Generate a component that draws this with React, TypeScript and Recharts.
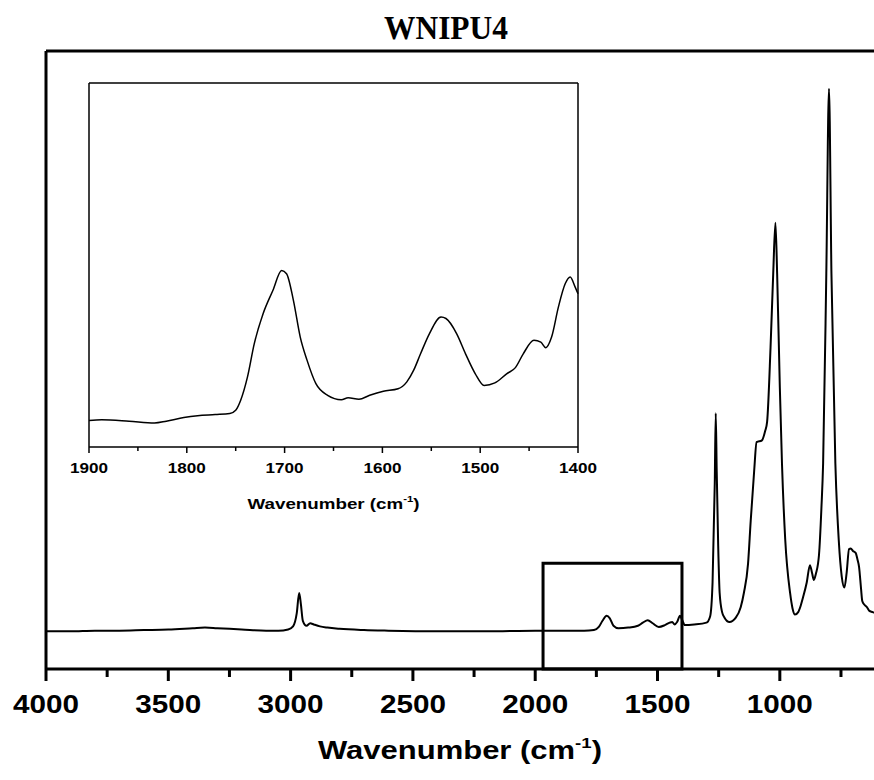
import React from "react";
import { LineChart, Line, XAxis, YAxis, ReferenceLine, ReferenceArea } from "recharts";

// Main FTIR spectrum (wavenumber in cm-1, absorbance in arbitrary units 0-100)
const mainWavenumbers = [
  4000, 3900, 3800, 3700, 3600, 3500, 3400, 3350, 3300, 3200, 3100, 3050, 3010, 2990, 2975, 2965, 2958, 2950,
  2935, 2920, 2905, 2880, 2850, 2800, 2700, 2600, 2400, 2200, 2000, 1900, 1800, 1760, 1740, 1725, 1708, 1695,
  1680, 1660, 1620, 1580, 1560, 1540, 1520, 1495, 1470, 1450, 1440, 1430, 1420, 1408, 1400, 1388, 1350, 1300,
  1285, 1275, 1266, 1262, 1258, 1252, 1246, 1236, 1226, 1206, 1180, 1160, 1147, 1130, 1119, 1105, 1095, 1073,
  1060, 1052, 1038, 1027, 1018, 1011, 1000, 991, 978, 958, 948, 938, 925, 915, 905, 890, 877, 868, 861, 852,
  844, 840, 830, 823, 810, 799, 789, 773, 759, 747, 736, 727, 717, 710, 701, 690, 683, 676, 668, 663, 654, 644,
  634, 620, 615,
];
const mainAbsorbance = [
  6.1, 6.1, 6.2, 6.2, 6.3, 6.4, 6.6, 6.7, 6.6, 6.4, 6.2, 6.2, 6.4, 6.9, 9.0, 12.3, 10.5, 7.8,
  7.0, 7.4, 7.2, 6.9, 6.7, 6.5, 6.3, 6.2, 6.1, 6.1, 6.2, 6.2, 6.2, 6.3, 6.8, 7.8, 8.6, 8.2,
  7.0, 6.6, 6.7, 7.0, 7.5, 7.9, 7.4, 6.8, 7.1, 7.5, 7.6, 7.2, 7.6, 8.6, 8.0, 7.1, 7.2, 7.5,
  8.5, 14, 30, 41.4, 32, 20, 12.3, 9.2, 8.3, 7.6, 8.3, 10, 12.3, 17, 24, 32, 36.7, 37,
  38.5, 40, 52, 64, 72.2, 64, 45.6, 33, 21, 12.3, 9.8, 8.8, 9.2, 10.2, 11.6, 14, 16.8, 15.5, 14.4, 15.5,
  17, 18.4, 26, 33.3, 64, 93.9, 64, 33.3, 20.8, 15, 13.2, 15.5, 19.4, 19.5, 19.1, 18.8, 17.8, 16.5, 13, 11, 10.4, 10,
  9.4, 9.2, 9.1,
];

// Inset: 1900-1400 cm-1 region
const insetWavenumbers = [
  1900, 1887, 1859, 1833, 1821, 1803, 1789, 1771, 1756, 1750, 1745, 1738, 1731, 1722, 1712, 1703, 1698, 1691,
  1684, 1677, 1668, 1656, 1642, 1635, 1624, 1613, 1599, 1584, 1575, 1568, 1561, 1552, 1540, 1535, 1524, 1515,
  1505, 1496, 1485, 1473, 1464, 1456, 1445, 1438, 1433, 1427, 1420, 1413, 1408, 1403, 1400,
];
const insetAbsorbance = [
  7.3, 7.5, 7.1, 6.6, 7.1, 8.1, 8.6, 8.9, 9.2, 10.1, 12.8, 19.2, 28.4, 36.6, 43, 48.5, 47.6, 40.3,
  30.2, 23.8, 17.4, 14.2, 13, 13.5, 13.1, 14.2, 15.3, 16, 17.9, 21.1, 25.6, 31.1, 35.7, 35.3, 31.1, 25.6,
  20.1, 16.9, 17.6, 20.1, 21.8, 25.6, 29.3, 28.8, 27.3, 30.2, 38.5, 44.9, 46.7, 44, 42.1,
];

const mainTicks = [4000, 3750, 3500, 3250, 3000, 2750, 2500, 2250, 2000, 1750, 1500, 1250, 1000, 750];
const insetTicks = [1900, 1850, 1800, 1750, 1700, 1650, 1600, 1550, 1500, 1450, 1400];
const chartTitle = "WNIPU4";
const axisTitle = "Wavenumber (cm";
const axisTitleSup = "-1";

const mainData = mainWavenumbers.map((w, i) => ({ w, a: mainAbsorbance[i] }));
const insetData = insetWavenumbers.map((w, i) => ({ w, a: insetAbsorbance[i] }));

const SANS = "'Liberation Sans', Arial, sans-serif";

const MainTick = (props: any) => {
  const { x, y, payload } = props;
  const major = payload.value % 500 === 0;
  return (
    <g>
      <line x1={x} x2={x} y1={y} y2={y + (major ? 12 : 8)} stroke="#000" strokeWidth={3} />
      {major && (
        <text x={x} y={y + 44} textAnchor="middle" fontFamily={SANS} fontWeight="bold" fontSize={25}
          textLength={66} lengthAdjust="spacingAndGlyphs" fill="#000">
          {payload.value}
        </text>
      )}
    </g>
  );
};

const InsetTick = (props: any) => {
  const { x, y, payload } = props;
  const major = payload.value % 100 === 0;
  return (
    <g>
      <line x1={x} x2={x} y1={y} y2={y + (major ? 6 : 4)} stroke="#000" strokeWidth={1.5} />
      {major && (
        <text x={x} y={y + 26} textAnchor="middle" fontFamily={SANS} fontWeight="bold" fontSize={15}
          textLength={38} lengthAdjust="spacingAndGlyphs" fill="#000">
          {payload.value}
        </text>
      )}
    </g>
  );
};

const makeAxisLabel = (dy: number, size: number, len: number, supSize: number, supShift: number) => (props: any) => {
  const vb = props.viewBox || {};
  const cx = vb.x + vb.width / 2;
  return (
    <text x={cx} y={vb.y + dy} textAnchor="middle" fontFamily={SANS} fontWeight="bold" fontSize={size}
      textLength={len} lengthAdjust="spacingAndGlyphs" fill="#000">
      {axisTitle}
      <tspan dy={-supShift} fontSize={supSize}>{axisTitleSup}</tspan>
      <tspan dy={supShift}>)</tspan>
    </text>
  );
};

export default function App() {
  return (
    <div style={{ position: "absolute", left: 0, top: 0, width: 874, height: 780, overflow: "hidden", background: "#fff" }}>
      <svg width={874} height={48} style={{ position: "absolute", left: 0, top: 0 }}>
        <text x={446} y={39} textAnchor="middle" fontFamily="'Liberation Serif', 'Times New Roman', serif"
          fontWeight="bold" fontSize={33} textLength={124} lengthAdjust="spacingAndGlyphs" fill="#000">
          {chartTitle}
        </text>
      </svg>
      <div style={{ position: "absolute", left: 0, top: 0 }}>
        <LineChart width={874} height={780} data={mainData} margin={{ top: 51, right: 0, left: 46, bottom: 0 }}>
          <XAxis dataKey="w" type="number" domain={[615, 4000]} reversed ticks={mainTicks} interval={0}
            height={111} tickSize={0} tickMargin={0} tickLine={false} tick={<MainTick />}
            axisLine={{ stroke: "#000", strokeWidth: 3 }} allowDataOverflow
            label={makeAxisLabel(90, 25, 284, 15, 11)} />
          <YAxis type="number" domain={[0, 100]} hide allowDataOverflow />
          <ReferenceLine y={100} stroke="#000" strokeWidth={3} />
          <ReferenceLine x={4000} stroke="#000" strokeWidth={3} />
          <ReferenceArea x1={1968} x2={1400} y1={0} y2={17.1} fill="none" fillOpacity={0} stroke="#000" strokeWidth={3} />
          <Line type="monotone" dataKey="a" stroke="#000" strokeWidth={2} dot={false} isAnimationActive={false} />
        </LineChart>
      </div>
      <div style={{ position: "absolute", left: 59, top: 73 }}>
        <LineChart width={549} height={454} data={insetData} margin={{ top: 10, right: 30, left: 30, bottom: 0 }}>
          <XAxis dataKey="w" type="number" domain={[1400, 1900]} reversed ticks={insetTicks} interval={0}
            height={80} tickSize={0} tickMargin={0} tickLine={false} tick={<InsetTick />}
            axisLine={{ stroke: "#000", strokeWidth: 1.5 }}
            label={makeAxisLabel(62, 15, 172, 9, 7)} />
          <YAxis type="number" domain={[0, 100]} hide />
          <ReferenceLine y={100} stroke="#000" strokeWidth={1.5} />
          <ReferenceLine x={1400} stroke="#000" strokeWidth={1.5} />
          <ReferenceLine x={1900} stroke="#000" strokeWidth={1.5} />
          <Line type="monotone" dataKey="a" stroke="#000" strokeWidth={1.5} dot={false} isAnimationActive={false} />
        </LineChart>
      </div>
    </div>
  );
}
